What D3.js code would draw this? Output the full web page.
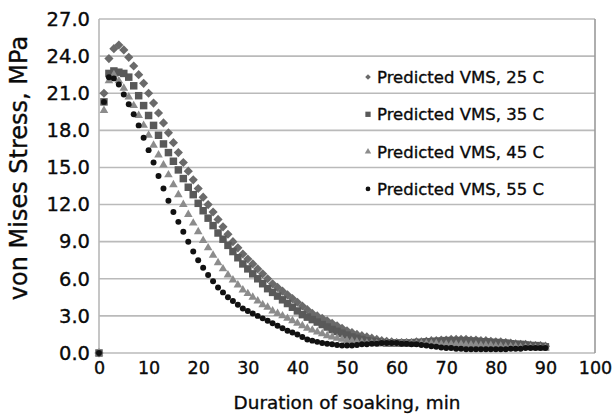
<!DOCTYPE html>
<html>
<head>
<meta charset="utf-8">
<script src="https://cdn.jsdelivr.net/npm/d3@7"></script>
<style>
  body { margin: 0; background: #fff; }
  text { font-family: "DejaVu Sans", sans-serif; fill: #0a0a0a; stroke: #0a0a0a; stroke-width: 0.35px; }
</style>
</head>
<body>
<div id="chart"></div>
<script>
// minutes 0..90, one reading per minute
const minutes = d3.range(0, 91);

const vms25 = [0,
  21.0, 23.8, 24.6, 24.9, 24.5, 23.9, 23.2, 22.5, 21.8, 21.0,
  20.2, 19.4, 18.6, 17.8, 17.0, 16.2, 15.4, 14.7, 14.0, 13.3,
  12.6, 12.0, 11.4, 10.8, 10.2, 9.6, 9.0, 8.5, 8.0, 7.6,
  7.2, 6.8, 6.4, 6.0, 5.6, 5.3, 5.0, 4.7, 4.4, 4.1,
  3.8, 3.5, 3.2, 3.0, 2.8, 2.6, 2.4, 2.2, 2.0, 1.8,
  1.65, 1.5, 1.4, 1.3, 1.2, 1.1, 1.0, 0.95, 0.9, 0.85,
  0.85, 0.85, 0.85, 0.9, 0.9, 0.95, 1.0, 1.0, 1.05, 1.05,
  1.1, 1.1, 1.1, 1.1, 1.05, 1.05, 1.0, 1.0, 0.95, 0.9,
  0.9, 0.85, 0.8, 0.75, 0.7, 0.7, 0.65, 0.6, 0.6, 0.55];

const vms35 = [0,
  20.3, 22.6, 22.8, 22.7, 22.6, 22.3, 21.6, 20.8, 20.0, 19.2,
  18.4, 17.6, 16.9, 16.2, 15.5, 14.8, 14.1, 13.4, 12.8, 12.1,
  11.5, 10.9, 10.3, 9.7, 9.2, 8.7, 8.2, 7.7, 7.2, 6.8,
  6.4, 6.0, 5.6, 5.2, 4.9, 4.6, 4.3, 4.0, 3.7, 3.4,
  3.1, 2.9, 2.7, 2.5, 2.3, 2.1, 1.9, 1.75, 1.6, 1.45,
  1.3, 1.2, 1.1, 1.0, 0.95, 0.9, 0.85, 0.8, 0.8, 0.8,
  0.8, 0.8, 0.8, 0.85, 0.85, 0.9, 0.9, 0.95, 0.95, 1.0,
  1.0, 1.0, 1.0, 1.0, 0.95, 0.95, 0.9, 0.9, 0.85, 0.85,
  0.8, 0.8, 0.75, 0.7, 0.7, 0.65, 0.6, 0.6, 0.55, 0.5];

const vms45 = [0,
  19.6, 22.0, 22.5, 22.0, 21.4, 20.7, 20.0, 19.2, 18.4, 17.6,
  16.8, 16.0, 15.2, 14.4, 13.6, 12.8, 12.0, 11.2, 10.5, 9.8,
  9.1, 8.5, 7.9, 7.3, 6.8, 6.3, 5.9, 5.5, 5.1, 4.8,
  4.5, 4.2, 3.9, 3.7, 3.4, 3.2, 3.0, 2.8, 2.6, 2.4,
  2.2, 2.0, 1.85, 1.7, 1.55, 1.4, 1.3, 1.2, 1.1, 1.0,
  0.95, 0.9, 0.85, 0.8, 0.8, 0.75, 0.75, 0.75, 0.75, 0.75,
  0.75, 0.75, 0.75, 0.75, 0.75, 0.75, 0.75, 0.75, 0.7, 0.7,
  0.7, 0.7, 0.7, 0.65, 0.65, 0.65, 0.6, 0.6, 0.6, 0.55,
  0.55, 0.5, 0.5, 0.5, 0.45, 0.45, 0.45, 0.4, 0.4, 0.4];

const vms55 = [0,
  20.3, 22.3, 22.2, 21.7, 20.9, 20.1, 19.3, 18.4, 17.4, 16.4,
  15.4, 14.3, 13.3, 12.3, 11.4, 10.6, 9.8, 9.0, 8.2, 7.5,
  6.9, 6.3, 5.8, 5.3, 4.9, 4.5, 4.2, 3.9, 3.6, 3.4,
  3.2, 3.0, 2.8, 2.6, 2.4, 2.2, 2.0, 1.8, 1.65, 1.5,
  1.3, 1.1, 1.0, 0.9, 0.8, 0.75, 0.7, 0.65, 0.6, 0.6,
  0.6, 0.65, 0.7, 0.7, 0.75, 0.75, 0.8, 0.8, 0.8, 0.8,
  0.75, 0.75, 0.7, 0.7, 0.65, 0.6, 0.55, 0.5, 0.45, 0.4,
  0.4, 0.35, 0.35, 0.3, 0.3, 0.3, 0.3, 0.3, 0.3, 0.3,
  0.3, 0.3, 0.35, 0.35, 0.35, 0.4, 0.4, 0.4, 0.4, 0.4];

const seriesNames = ['Predicted VMS, 25 C', 'Predicted VMS, 35 C', 'Predicted VMS, 45 C', 'Predicted VMS, 55 C'];
const seriesValues = [vms25, vms35, vms45, vms55];
const seriesColors = ['#6a6a6a', '#595959', '#8c8c8c', '#111111'];
const xTicks = [0, 10, 20, 30, 40, 50, 60, 70, 80, 90, 100];
const yTicks = [0, 3, 6, 9, 12, 15, 18, 21, 24, 27];

const width = 614;
const height = 417;
const margin = {top: 19, right: 19, bottom: 64, left: 99};

const svg = d3.select('#chart')
    .append('svg')
    .attr('width', width)
    .attr('height', height);

const x = d3.scaleLinear().domain([0, 100]).range([margin.left, width - margin.right]);
const y = d3.scaleLinear().domain([0, 27]).range([height - margin.bottom, margin.top]);

// gridlines
svg.append('g')
    .selectAll('line')
    .data(yTicks)
    .enter().append('line')
    .attr('x1', x(0))
    .attr('x2', x(100))
    .attr('y1', d => y(d))
    .attr('y2', d => y(d))
    .attr('stroke', '#bababa')
    .attr('stroke-width', 1.6);

// plot frame (left + right)
svg.append('line')
    .attr('x1', x(0)).attr('x2', x(0))
    .attr('y1', y(0)).attr('y2', y(27))
    .attr('stroke', '#b8b8b8').attr('stroke-width', 1.6);
svg.append('line')
    .attr('x1', x(100)).attr('x2', x(100))
    .attr('y1', y(0)).attr('y2', y(27))
    .attr('stroke', '#9a9a9a').attr('stroke-width', 1.6);

// y axis labels
const yAxis = d3.axisLeft(y).tickValues(yTicks).tickFormat(d3.format('.1f')).tickSize(0).tickPadding(9);
svg.append('g')
    .attr('transform', 'translate(' + x(0) + ',0)')
    .call(yAxis)
    .call(g => g.select('.domain').remove())
    .selectAll('text')
    .style('font-family', '"DejaVu Sans", sans-serif')
    .style('font-size', '19.5px')
    .attr('fill', '#0a0a0a');

// x axis labels
const xAxis = d3.axisBottom(x).tickValues(xTicks).tickSize(0).tickPadding(9);
svg.append('g')
    .attr('transform', 'translate(0,' + y(0) + ')')
    .call(xAxis)
    .call(g => g.select('.domain').remove())
    .selectAll('text')
    .style('font-family', '"DejaVu Sans", sans-serif')
    .style('font-size', '17.5px')
    .attr('fill', '#0a0a0a');

// axis titles
svg.append('text')
    .attr('transform', 'translate(27,168) rotate(-90)')
    .attr('text-anchor', 'middle')
    .style('font-size', '24px')
    .text('von Mises Stress, MPa');

svg.append('text')
    .attr('x', 347)
    .attr('y', 409)
    .attr('text-anchor', 'middle')
    .style('font-size', '18.4px')
    .text('Duration of soaking, min');

// markers
const symbols = [
    d3.symbol().type(d3.symbolSquare).size(42),
    d3.symbol().type(d3.symbolSquare).size(56),
    d3.symbol().type(d3.symbolTriangle).size(32),
    d3.symbol().type(d3.symbolCircle).size(28)
];
const rotations = [45, 0, 0, 0];

seriesValues.forEach(function (values, i) {
    svg.append('g')
        .selectAll('path')
        .data(minutes)
        .enter().append('path')
        .attr('d', symbols[i])
        .attr('fill', seriesColors[i])
        .attr('transform', t => 'translate(' + x(t) + ',' + y(values[t]) + ') rotate(' + rotations[i] + ')');
});

// legend
const legend = svg.append('g');
const legendSymbols = [
    d3.symbol().type(d3.symbolSquare).size(16),
    d3.symbol().type(d3.symbolSquare).size(28),
    d3.symbol().type(d3.symbolTriangle).size(18),
    d3.symbol().type(d3.symbolCircle).size(18)
];
seriesNames.forEach(function (name, i) {
    const cy = 77 + i * 37.3;
    legend.append('path')
        .attr('d', legendSymbols[i])
        .attr('fill', seriesColors[i])
        .attr('transform', 'translate(368,' + cy + ') rotate(' + rotations[i] + ')');
    legend.append('text')
        .attr('x', 377)
        .attr('y', cy)
        .attr('dy', '0.36em')
        .style('font-size', '16.5px')
        .text(name);
});
</script>
</body>
</html>
